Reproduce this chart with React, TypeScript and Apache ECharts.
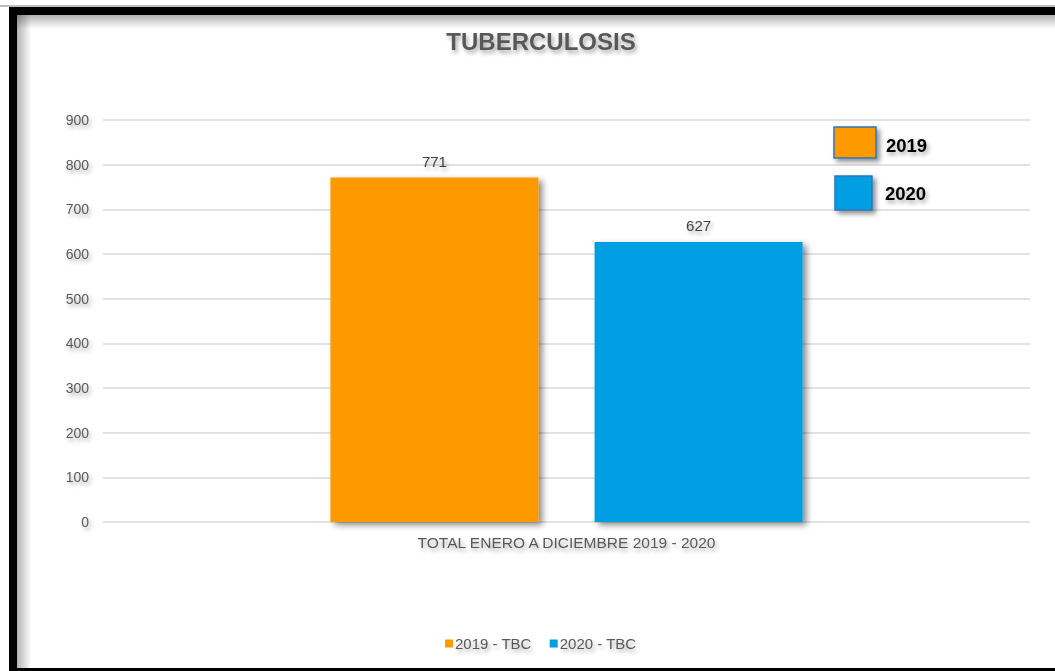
import React, { useEffect, useRef } from "react";
import * as echarts from "echarts";

const categories = ["TOTAL ENERO A DICIEMBRE 2019 - 2020"];
const seriesNames = ["2019 - TBC", "2020 - TBC"];
const years = ["2019", "2020"];
const values2019 = [771];
const values2020 = [627];
const colors = ["#FF9900", "#009FE3"];
const yTicks = { min: 0, max: 900, interval: 100 };

const FONT = "'Liberation Sans', Arial, sans-serif";
const textShadow = {
  textShadowColor: "rgba(0,0,0,0.35)",
  textShadowBlur: 4,
  textShadowOffsetX: 2,
  textShadowOffsetY: 3,
};

export default function App() {
  const ref = useRef<HTMLDivElement>(null);
  useEffect(() => {
    if (!ref.current) return;
    const chart = echarts.init(ref.current, undefined, { renderer: "svg" });
    const barShadow = {
      shadowColor: "rgba(0,0,0,0.45)",
      shadowBlur: 6,
      shadowOffsetX: 4,
      shadowOffsetY: 3,
    };
    const valueLabel = {
      show: true,
      position: "top",
      distance: 9,
      fontFamily: FONT,
      fontSize: 15,
      color: "#404040",
      ...textShadow,
    };
    chart.setOption({
      animation: false,
      backgroundColor: "#ffffff",
      textStyle: { fontFamily: FONT },
      title: {
        text: "TUBERCULOSIS",
        left: 536,
        top: 24,
        textAlign: "center",
        textStyle: {
          fontFamily: FONT,
          fontSize: 24,
          fontWeight: "bold",
          color: "#595959",
          ...textShadow,
        },
      },
      legend: {
        bottom: 15,
        left: 440,
        icon: "rect",
        itemWidth: 8,
        itemHeight: 8,
        itemGap: 18,
        data: seriesNames,
        textStyle: {
          fontFamily: FONT,
          fontSize: 15,
          color: "#595959",
          padding: [0, 0, 0, -3],
          ...textShadow,
        },
      },
      grid: { left: 103, right: 25, top: 120, bottom: 149 },
      xAxis: {
        type: "category",
        data: categories,
        axisLine: { show: false },
        axisTick: { show: false },
        axisLabel: {
          fontFamily: FONT,
          fontSize: 15.5,
          color: "#595959",
          margin: 12,
          ...textShadow,
        },
      },
      yAxis: {
        type: "value",
        min: yTicks.min,
        max: yTicks.max,
        interval: yTicks.interval,
        axisLine: { show: false },
        axisTick: { show: false },
        axisLabel: {
          fontFamily: FONT,
          fontSize: 14,
          color: "#595959",
          margin: 14,
          ...textShadow,
        },
        splitLine: {
          show: true,
          lineStyle: {
            color: "#d9d9d9",
            width: 1.5,
          },
        },
      },
      series: [
        {
          name: seriesNames[0],
          type: "bar",
          data: values2019,
          barWidth: 208,
          barGap: "27%",
          itemStyle: { color: colors[0], ...barShadow },
          label: valueLabel,
        },
        {
          name: seriesNames[1],
          type: "bar",
          data: values2020,
          barWidth: 208,
          itemStyle: { color: colors[1], ...barShadow },
          label: valueLabel,
        },
      ],
      graphic: [
        {
          type: "rect",
          z: 90,
          shape: { x: 17, y: 15, width: 1038, height: 14 },
          style: {
            fill: new echarts.graphic.LinearGradient(0, 0, 0, 1, [
              { offset: 0, color: "rgba(0,0,0,0.3)" },
              { offset: 1, color: "rgba(0,0,0,0)" },
            ]),
          },
        },
        {
          type: "rect",
          z: 90,
          shape: { x: 17, y: 15, width: 14, height: 653 },
          style: {
            fill: new echarts.graphic.LinearGradient(0, 0, 1, 0, [
              { offset: 0, color: "rgba(0,0,0,0.3)" },
              { offset: 1, color: "rgba(0,0,0,0)" },
            ]),
          },
        },
        { type: "rect", z: 100, shape: { x: 9, y: 7, width: 1046, height: 8 }, style: { fill: "#000" } },
        { type: "rect", z: 100, shape: { x: 9, y: 7, width: 8, height: 664 }, style: { fill: "#000" } },
        { type: "rect", z: 100, shape: { x: 9, y: 668, width: 1046, height: 3 }, style: { fill: "#000" } },
        { type: "rect", z: 100, shape: { x: 0, y: 5, width: 1055, height: 2 }, style: { fill: "#bdbdbd" } },
        {
          type: "rect",
          z: 100,
          shape: { x: 834, y: 127, width: 42, height: 31 },
          style: {
            fill: colors[0],
            stroke: "#2E75B6",
            lineWidth: 1.5,
            shadowColor: "rgba(0,0,0,0.45)",
            shadowBlur: 5,
            shadowOffsetX: 3,
            shadowOffsetY: 3,
          },
        },
        {
          type: "text",
          z: 100,
          x: 886,
          y: 145,
          style: {
            text: years[0],
            fontFamily: FONT,
            fontSize: 18.5,
            fontWeight: "bold",
            fill: "#000",
            verticalAlign: "middle",
            ...textShadow,
          },
        },
        {
          type: "rect",
          z: 100,
          shape: { x: 835, y: 176, width: 37, height: 34 },
          style: {
            fill: colors[1],
            stroke: "#2E75B6",
            lineWidth: 1.5,
            shadowColor: "rgba(0,0,0,0.45)",
            shadowBlur: 5,
            shadowOffsetX: 3,
            shadowOffsetY: 3,
          },
        },
        {
          type: "text",
          z: 100,
          x: 885,
          y: 193,
          style: {
            text: years[1],
            fontFamily: FONT,
            fontSize: 18.5,
            fontWeight: "bold",
            fill: "#000",
            verticalAlign: "middle",
            ...textShadow,
          },
        },
      ],
    });
    return () => chart.dispose();
  }, []);
  return (
    <div
      ref={ref}
      style={{ position: "fixed", left: 0, top: 0, width: 1055, height: 671 }}
    />
  );
}
